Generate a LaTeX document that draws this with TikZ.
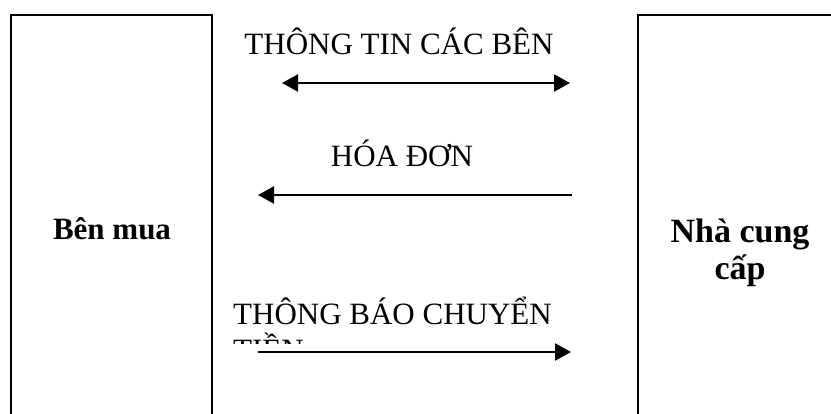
\documentclass[tikz,border=0pt]{standalone}
\usepackage{fontspec}
\setmainfont{Liberation Serif}
\usetikzlibrary{arrows.meta}

\tikzset{
  party/.style={draw, line width=2pt, minimum height=430pt, inner sep=0pt},
  partylabel/.style={font=\fontsize{31}{37}\selectfont\bfseries, align=center, inner sep=0pt},
  msg/.style={font=\fontsize{31}{36}\selectfont, inner sep=0pt},
  flow/.style={line width=2.4pt, -{Triangle[length=16pt,width=17pt]}},
  flowboth/.style={line width=2.4pt, {Triangle[length=16pt,width=17pt]}-{Triangle[length=16pt,width=17pt]}},
}

\begin{document}
\begin{tikzpicture}[x=1pt,y=-1pt]
  \useasboundingbox (0,0) rectangle (831,414);
  \clip (0,0) rectangle (831,414);

  % the two parties
  \node[party, minimum width=201pt] (buyer) at (111.5,230) {};
  \node[party, minimum width=204pt] (supplier) at (740,230) {};
  \node[partylabel, anchor=base] (buyerlbl) at (112,240) {Bên mua};
  \node[partylabel, font=\fontsize{34}{37}\selectfont\bfseries, anchor=base] (supplierlbl) at (740,280) {Nhà cung\\cấp};

  % messages
  \node[msg, anchor=base] (infotxt) at (399,55) {THÔNG TIN CÁC BÊN};
  \node[msg, anchor=base] (invoicetxt) at (402,167) {HÓA ĐƠN};
  \begin{scope}
    \clip (200,280) rectangle (600,344);
    \node[msg, anchor=base west, align=left] (paytxt) at (233,361) {THÔNG BÁO CHUYỂN\\TIỀN};
  \end{scope}

  \coordinate (infoL) at (282,83);
  \coordinate (infoR) at (570,83);
  \coordinate (invoiceL) at (258,195);
  \coordinate (invoiceR) at (572,195);
  \coordinate (payL) at (258,352);
  \coordinate (payR) at (571,352);

  \draw[flowboth] (infoL) -- (infoR);
  \draw[flow] (invoiceR) -- (invoiceL);
  \draw[flow] (payL) -- (payR);
\end{tikzpicture}
\end{document}
